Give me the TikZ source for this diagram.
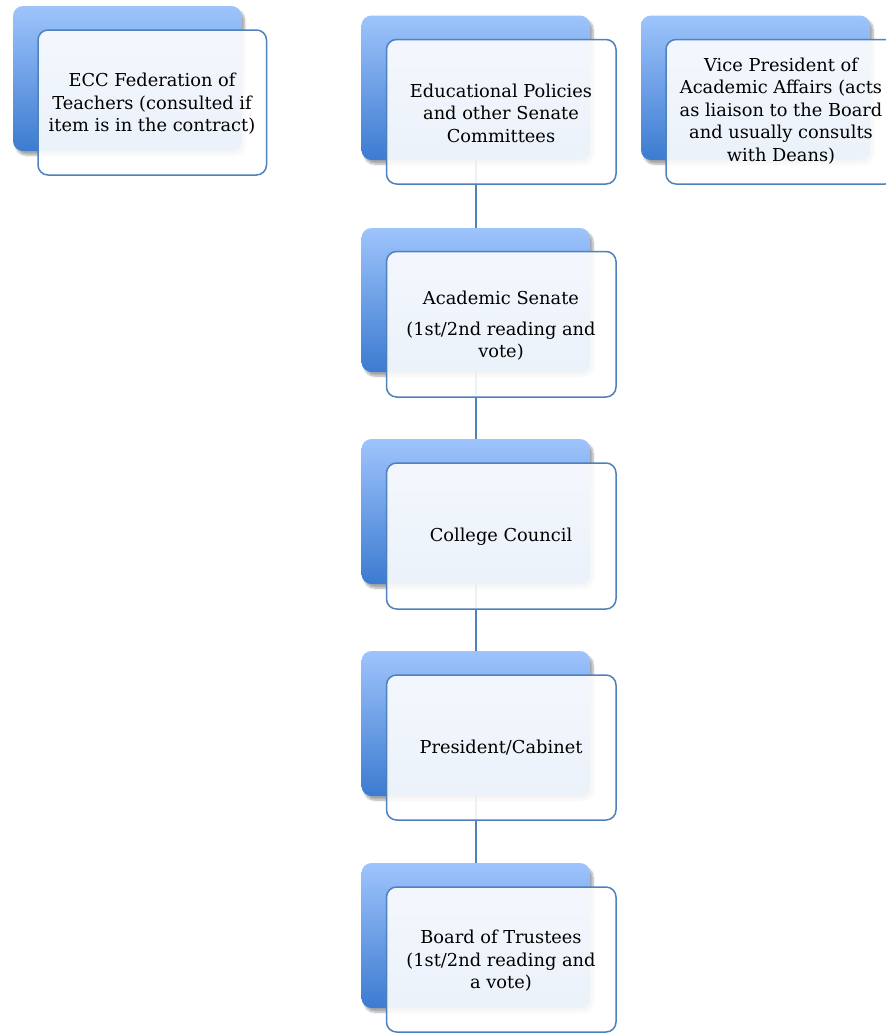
\documentclass[tikz,border=0pt]{standalone}
\usepackage{fontspec}
\setmainfont{DejaVu Serif}
\usetikzlibrary{shadows.blur}
\definecolor{backtop}{HTML}{9EC4FC}
\definecolor{backbot}{HTML}{3C7BD0}
\definecolor{edgeblue}{HTML}{4F81BD}
\tikzset{
  backbox/.style={rounded corners=10pt, top color=backtop, bottom color=backbot,
    blur shadow={shadow xshift=3pt, shadow yshift=-4pt, shadow blur steps=6, shadow opacity=35}},
  frontbox/.style={rounded corners=10pt, draw=edgeblue, line width=1.5pt, fill=white, fill opacity=0.9},
  boxtext/.style={align=center, font=\fontsize{17.8}{22.5}\selectfont, text=black},
  link/.style={draw=edgeblue, line width=2pt}
}
\begin{document}
\begin{tikzpicture}[x=1pt, y=-1pt]
\useasboundingbox (0,0) rectangle (886,1034);
% connector anchors (centres of back boxes' edges)
\coordinate (b1s) at (475.5,160);
\coordinate (b2n) at (475.5,228);
\coordinate (b2s) at (475.5,372);
\coordinate (b3n) at (475.5,439);
\coordinate (b3s) at (475.5,584);
\coordinate (b4n) at (475.5,651);
\coordinate (b4s) at (475.5,796);
\coordinate (b5n) at (475.5,863);
\draw[link] (b1s) -- (b2n);
\draw[link] (b2s) -- (b3n);
\draw[link] (b3s) -- (b4n);
\draw[link] (b4s) -- (b5n);
% back boxes
\path[backbox] (13,6) rectangle (241.5,151);
\path[backbox] (361.5,15.5) rectangle (590,160);
\path[backbox] (641,15.5) rectangle (870,160);
\path[backbox] (361.5,228) rectangle (590,372);
\path[backbox] (361.5,439) rectangle (590,584);
\path[backbox] (361.5,651) rectangle (590,796);
\path[backbox] (361.5,863) rectangle (590,1008);
% front boxes
\path[frontbox] (38,30) rectangle (266.5,175);
\path[frontbox] (386.5,39.5) rectangle (616,184);
\path[frontbox] (666,39.5) rectangle (895,184);
\path[frontbox] (386.5,251.5) rectangle (616,397);
\path[frontbox] (386.5,463) rectangle (616,609);
\path[frontbox] (386.5,675) rectangle (616,820);
\path[frontbox] (386.5,887) rectangle (616,1032);
% texts
\node[boxtext] (ecc) at (152,104) {ECC Federation of\\Teachers (consulted if\\item is in the contract)};
\node[boxtext] (edp) at (501,113) {Educational Policies\\and other Senate\\Committees};
\node[boxtext] (vpa) at (781,111) {Vice President of\\Academic Affairs (acts\\as liaison to the Board\\and usually consults\\with Deans)};
\node[boxtext] (sen) at (501,326) {Academic Senate\\[8pt](1st/2nd reading and\\vote)};
\node[boxtext] (cc) at (501,537) {College Council};
\node[boxtext] (pc) at (501,748) {President/Cabinet};
\node[boxtext] (bot) at (501,961) {Board of Trustees\\(1st/2nd reading and\\a vote)};
\end{tikzpicture}
\end{document}
